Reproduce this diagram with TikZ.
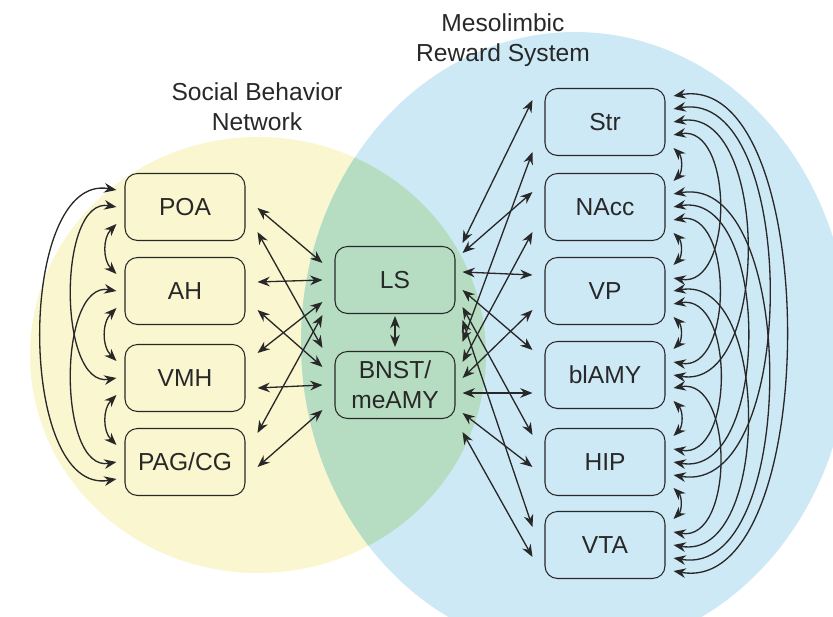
\documentclass[tikz,border=0pt]{standalone}
\usepackage{fontspec}
\setmainfont{Liberation Sans}
\usetikzlibrary{arrows.meta,calc}

\definecolor{sbnyellow}{RGB}{250,246,208}
\definecolor{mrsblue}{RGB}{206,233,246}
\definecolor{overlapgreen}{RGB}{182,221,194}
\definecolor{inkgray}{RGB}{40,40,40}

\begin{document}
\begin{tikzpicture}[x=0.02cm,y=0.02cm,>={Stealth[length=7pt,width=5.5pt]},
  area/.style={draw=inkgray, line width=0.6pt, rounded corners=0.25cm,
    minimum width=2.4cm, minimum height=1.34cm, inner sep=0pt, align=center,
    text=inkgray, font=\fontsize{14}{17}\selectfont},
  title/.style={align=center, text=inkgray, font=\fontsize{14}{17}\selectfont},
  link/.style={<->, line width=0.75pt, inkgray}]
  \useasboundingbox (0,0) rectangle (833,-617);

  % the two systems and their overlap
  \fill[sbnyellow] (258,-355) ellipse [x radius=228, y radius=218];
  \fill[mrsblue] (575,-342) ellipse [x radius=274, y radius=310];
  \begin{scope}
    \clip (258,-355) ellipse [x radius=228, y radius=218];
    \fill[overlapgreen] (575,-342) ellipse [x radius=274, y radius=310];
  \end{scope}

  \node[title] (sbn) at (257,-107) {Social Behavior\\Network};
  \node[title] (mrs) at (503,-40) {Mesolimbic\\Reward System};

  \node[area] (POA) at (185,-207) {POA};
  \node[area] (AH) at (185,-291) {AH};
  \node[area] (VMH) at (185,-378) {VMH};
  \node[area] (PAG) at (185,-462) {PAG/CG};

  \node[area] (LS) at (395,-280) {LS};
  \node[area] (BNST) at (395,-385) {BNST/\\meAMY};

  \node[area] (Str) at (605,-122) {Str};
  \node[area] (NAcc) at (605,-207) {NAcc};
  \node[area] (VP) at (605,-291) {VP};
  \node[area] (blAMY) at (605,-375) {blAMY};
  \node[area] (HIP) at (605,-462) {HIP};
  \node[area] (VTA) at (605,-545) {VTA};

  % arcs inside the social behavior network
  \foreach \a/\b in {POA/AH, AH/VMH, VMH/PAG}
    \draw[link] ($(\a.west)+(-8,-17)$) to[bend right=45] ($(\b.west)+(-8,17)$);
  \foreach \a/\b/\s/\l in {POA/VMH/2/0.9, AH/PAG/2/0.9, POA/PAG/3/0.9}
    \draw[link] ($(\a.west)+(-8,{17*(\s-2)})$) to[out=170,in=190,looseness=\l] ($(\b.west)+(-8,{17*(2-\s)})$);

  % arcs inside the reward system
  \foreach \a/\b in {Str/NAcc, NAcc/VP, VP/blAMY, blAMY/HIP, HIP/VTA}
    \draw[link] ($(\a.east)+(8,-26)$) to[bend left=45] ($(\b.east)+(8,26)$);
  \foreach \a/\b/\s/\l in {Str/VP/2/1.1, NAcc/blAMY/2/1.1, VP/HIP/2/1.1, blAMY/VTA/2/1.1,
      Str/blAMY/3/1.0, NAcc/HIP/3/1.0, VP/VTA/3/1.0,
      Str/HIP/4/0.9, NAcc/VTA/4/0.9, Str/VTA/5/0.82}
    \draw[link] ($(\a.east)+(8,{13*(\s-3)})$) to[out=10,in=-10,looseness=\l] ($(\b.east)+(8,{13*(3-\s)})$);

  % social behavior network to LS and BNST
  \foreach \a/\p/\q in {POA/-1/17, AH/9/0, VMH/25/-22, PAG/29/-35}
    \draw[link] ($(\a.east)+(12,\p)$) -- ($(LS.west)+(-12,\q)$);
  \foreach \a/\p/\q in {POA/-25/37, AH/-19/18, VMH/-10/0, PAG/-5/-25}
    \draw[link] ($(\a.east)+(12,\p)$) -- ($(BNST.west)+(-12,\q)$);
  \draw[link] ($(LS.south)+(0,-2)$) -- ($(BNST.north)+(0,4)$);

  % LS and BNST to the reward system
  \foreach \a/\p/\q in {Str/37/22, NAcc/27/15, VP/8/16, blAMY/-10/25, HIP/-27/27, VTA/-40/18}
    \draw[link] ($(LS.east)+(7,\p)$) -- ($(\a.west)+(-12,\q)$);
  \foreach \a/\p/\q in {Str/43/-30, NAcc/23/-25, VP/7/-19, blAMY/-8/-18, HIP/-28/-5, VTA/-47/-12}
    \draw[link] ($(BNST.east)+(7,\p)$) -- ($(\a.west)+(-12,\q)$);
\end{tikzpicture}
\end{document}
